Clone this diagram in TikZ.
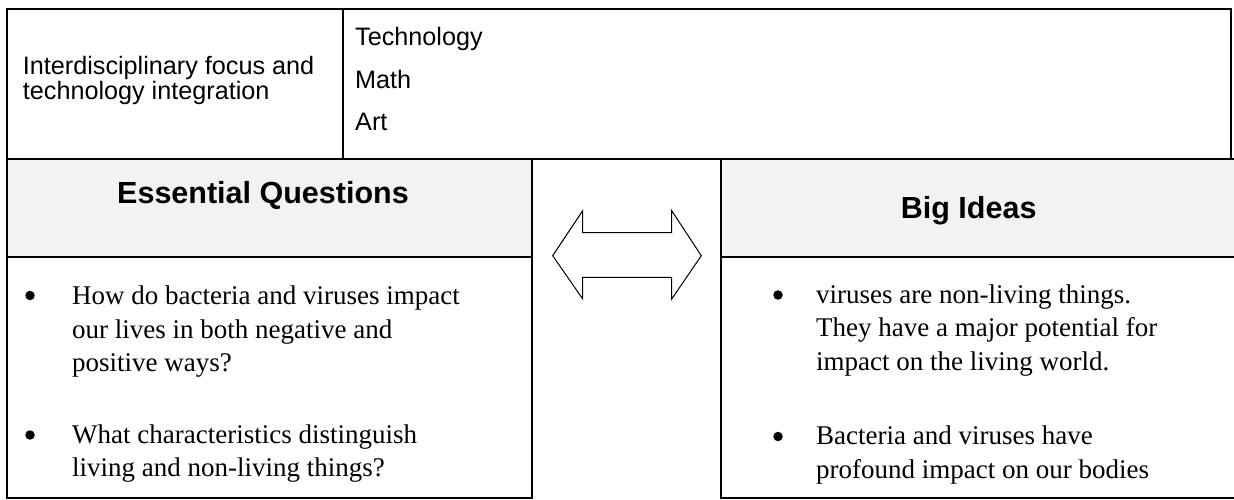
\documentclass[tikz,border=0pt]{standalone}
\usepackage{fontspec}
\setmainfont{Liberation Sans}
\newfontfamily\bodyserif{Liberation Serif}
\usetikzlibrary{positioning}
\definecolor{headgray}{RGB}{242,242,242}
\tikzset{
	frame/.style={
		line width=1.8pt,
		line cap=rect,
	},
	headfill/.style={
		fill=headgray,
	},
	celltext/.style={
		anchor=base west,
		inner sep=0pt,
		align=left,
		font=\fontsize{25.2}{25}\selectfont,
	},
	subjtext/.style={
		celltext,
		font=\fontsize{25.2}{42.5}\selectfont,
	},
	headtext/.style={
		anchor=base,
		inner sep=0pt,
		font=\fontsize{30.5}{36}\selectfont\bfseries,
	},
	itemtext/.style={
		anchor=base west,
		inner sep=0pt,
		align=left,
		font=\bodyserif\fontsize{27}{33.3}\selectfont,
	},
	itemdot/.style={
		circle,
		fill=black,
		inner sep=0pt,
		minimum size=9.5pt,
	},
	swaparrow/.style={
		draw=black,
		fill=white,
		line width=1pt,
		line join=miter,
	},
}

\begin{document}
\begin{tikzpicture}[x=1pt,y=-1pt]
	\useasboundingbox (0,0) rectangle (1234,500);

	% header shading
	\fill[headfill] (7,160) rectangle (532,257);
	\fill[headfill] (721,160) rectangle (1234,257);

	% top table
	\draw[frame] (7,9) rectangle (1231,159);
	\draw[frame] (343,9) -- (343,159);

	% left and right boxes
	\draw[frame] (7,159) rectangle (532,498);
	\draw[frame] (7,257) -- (532,257);
	\draw[frame] (1234,159) -- (721,159) -- (721,498) -- (1234,498);
	\draw[frame] (721,257) -- (1234,257);

	% (base anchor of a multi-line node sits on its last line)
	\node [celltext] (focus) at (22.7,99.5)
		{Interdisciplinary focus and\\technology integration};
	\node [subjtext] (subjects) at (355,131) {Technology\\Math\\Art};

	\node [headtext] (eqhead) at (263,203.5) {Essential Questions};
	\node [headtext] (bihead) at (968.7,218.3) {Big Ideas};

	\node [itemdot] (eqdota) at (30,295.5) {};
	\node [
		itemtext,
	] (eqa) at (72,371.3)
		{How do bacteria and viruses impact\\our lives in both negative and\\positive ways?};
	\node [itemdot] (eqdotb) at (30,435) {};
	\node [
		itemtext,
	] (eqb) at (72,476.8)
		{What characteristics distinguish\\living and non-living things?};

	\node [itemdot] (bidota) at (778,295) {};
	\node [
		itemtext,
	] (bia) at (816,370.2)
		{viruses are non-living things.\\They have a major potential for\\impact on the living world.};
	\node [itemdot] (bidotb) at (778,436.5) {};
	\node [
		itemtext,
	] (bib) at (816,478)
		{Bacteria and viruses have\\profound impact on our bodies};

	% two-way arrow between the boxes
	\draw[swaparrow] (552.7,255.7) -- (582.7,210.7) -- (582.7,232.7)
		-- (671.7,232.7) -- (671.7,210.7) -- (701.3,255.7)
		-- (671.7,299) -- (671.7,277.3) -- (582.7,277.3)
		-- (582.7,299) -- cycle;
\end{tikzpicture}
\end{document}
